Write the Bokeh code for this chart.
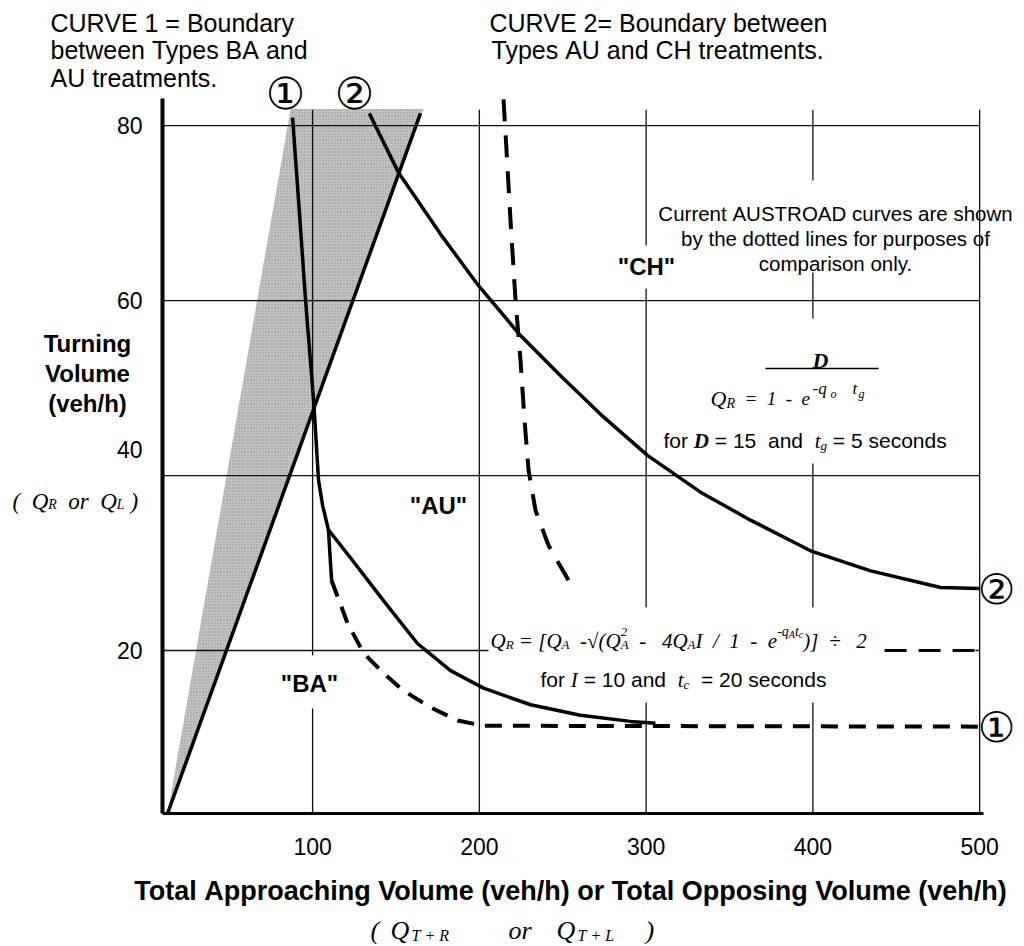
from bokeh.plotting import figure
from bokeh.models import Range1d, FixedTicker, Label, BoxAnnotation
from bokeh.embed import file_html
from bokeh.resources import INLINE

# ---------------- data ----------------
x_ticks = [100, 200, 300, 400, 500]
y_grid_vals = [20, 40, 60, 80]
y_tick_pos = [20, 43, 60, 80]           # the "40" label sits above its grid line in the original
y_tick_text = {20: "20", 43: "40", 60: "60", 80: "80"}

diag_x = [13.1, 164.7]
diag_y = [1.4, 81.4]

shade_x = [13.1, 86.8, 166.5]
shade_y = [1.4, 81.9, 81.9]

curve1_x = [88.0, 91.6, 95.8, 100.6, 103.6, 106.0, 109.5, 122.7, 142.5, 162.9,
            182.7, 202.5, 230.7, 260.6, 290.6, 305.6]
curve1_y = [80.9, 71.4, 60.0, 48.6, 39.4, 36.6, 33.8, 30.6, 25.7, 20.8,
            17.7, 15.7, 13.8, 12.6, 11.9, 11.7]
stub1_x = [109.5, 111.4]
stub1_y = [33.8, 28.0]

aus1_x = [111.4, 121.0, 130.6, 142.6, 154.6, 170.7, 187.0, 202.5, 500.0]
aus1_y = [28.0, 23.1, 19.7, 17.4, 15.4, 13.5, 12.0, 11.4, 11.3]

curve2_x = [134.0, 151.6, 176.7, 199.5, 224.7, 248.7, 272.7, 300.8, 332.6,
            362.6, 398.6, 434.6, 476.6, 500.0]
curve2_y = [81.4, 74.6, 67.6, 61.7, 56.0, 51.4, 47.0, 42.3, 38.1,
            34.9, 31.4, 29.1, 27.2, 27.1]

aus2_x = [214.5, 216.3, 218.7, 221.7, 224.7, 227.1, 229.5, 233.7, 241.5, 253.5]
aus2_y = [83.0, 77.1, 69.1, 60.0, 53.1, 46.3, 40.6, 36.0, 32.0, 28.0]
aus2_tail_x = [443.0, 500.0]
aus2_tail_y = [20.0, 20.0]

# ---------------- layout ----------------
W, H = 1022, 944
AX_X0, AX_X1 = 10.0, 502.3      # extent of the x axis line
AX_Y0, AX_Y1 = 1.37, 83.1       # extent of the y axis line
GRID_TOP = 81.8
SX = 821 / (AX_X1 - AX_X0)      # pixels per x unit
SY = 715 / (AX_Y1 - AX_Y0)      # pixels per y unit
PX_AX_L, PX_AX_T = 162, 98      # page position of the axes corner/top


def dx(px):  # page pixel -> data x
    return AX_X0 + (px - PX_AX_L) / SX


def dy(py):  # page pixel -> data y
    return AX_Y1 - (py - PX_AX_T) / SY


p = figure(width=W, height=H, x_range=Range1d(dx(0), dx(W)), y_range=Range1d(dy(H), dy(0)),
           output_backend="svg", toolbar_location=None,
           min_border_left=0, min_border_right=0, min_border_top=0, min_border_bottom=0)
p.title.visible = False
p.outline_line_color = None
p.background_fill_color = "white"
p.border_fill_color = "white"
p.xgrid.visible = False
p.ygrid.visible = False

SANS = "Liberation Sans"
SERIF = "Liberation Serif"

p.xaxis.ticker = FixedTicker(ticks=x_ticks)
p.yaxis.ticker = FixedTicker(ticks=y_tick_pos)
p.yaxis.major_label_overrides = y_tick_text
p.xaxis.fixed_location = AX_Y0
p.yaxis.fixed_location = AX_X0
p.xaxis.bounds = (AX_X0, AX_X1)
p.yaxis.bounds = (AX_Y0, AX_Y1)
for ax in (p.xaxis[0], p.yaxis[0]):
    ax.major_tick_line_color = None
    ax.minor_tick_line_color = None
    ax.major_label_text_font = SANS
    ax.major_label_text_font_size = "23px"
    ax.major_label_text_color = "black"
    ax.axis_line_color = "black"
p.xaxis.axis_line_width = 3
p.yaxis.axis_line_width = 4
p.xaxis.major_label_standoff = 18
p.yaxis.major_label_standoff = 14

# shaded wedge (behind grid)
p.patch(shade_x, shade_y, fill_color="#c2c2c2", line_color=None,
        hatch_pattern=".", hatch_scale=3, hatch_color="#777777", hatch_alpha=0.55,
        level="image")

# grid lines at the tick values
p.segment(x0=x_ticks, y0=[AX_Y0] * len(x_ticks), x1=x_ticks, y1=[GRID_TOP] * len(x_ticks),
          line_color="#111111", line_width=1.3, level="image")
p.segment(x0=[AX_X0] * len(y_grid_vals), y0=y_grid_vals, x1=[500] * len(y_grid_vals),
          y1=y_grid_vals, line_color="#111111", line_width=1.3, level="image")

# white boxes where text interrupts the grid in the original
for (l, r, t, b) in [(660, 975, 318, 463), (655, 975, 180, 272), (610, 682, 245, 288),
                     (488, 975, 607, 702), (278, 340, 655, 708)]:
    p.add_layout(BoxAnnotation(left=dx(l), right=dx(r), top=dy(t), bottom=dy(b),
                               fill_color="white", fill_alpha=1.0, line_color=None,
                               level="underlay"))

# curves
p.line(diag_x, diag_y, line_color="black", line_width=3.5)
p.line(curve1_x, curve1_y, line_color="black", line_width=3.5, line_join="round")
p.line(stub1_x, stub1_y, line_color="black", line_width=3.5)
p.line(curve2_x, curve2_y, line_color="black", line_width=3.5, line_join="round")
p.line(aus1_x, aus1_y, line_color="black", line_width=4, line_dash="17 11")
p.line(aus2_x, aus2_y, line_color="black", line_width=4, line_dash="22 14")
p.line(aus2_tail_x, aus2_tail_y, line_color="black", line_width=3, line_dash="22 12")

NB = "\u00a0"


def put(text, px, py, size, font=SANS, style="normal", align="left", baseline="middle",
        color="black"):
    lab = Label(x=dx(px), y=dy(py), text=text.replace(" ", NB), text_font=font,
                text_font_size=f"{size}px", text_font_style=style,
                text_align=align, text_baseline=baseline, text_color=color)
    p.add_layout(lab)
    return lab


# approximate advance widths (em) for composing formulae
W_SERIF_I = {' ': 0.25, 'Q': 0.722, 'R': 0.611, 'A': 0.611, 'T': 0.556, 'L': 0.556,
             'D': 0.722, 'I': 0.333, '=': 0.675, '[': 0.389, ']': 0.389, '(': 0.333,
             ')': 0.333, '-': 0.333, '+': 0.675, '/': 0.278, '÷': 0.675, '√': 0.55,
             '1': 0.5, '2': 0.5, '4': 0.5, 'e': 0.444, 'q': 0.5, 't': 0.278,
             'c': 0.444, 'g': 0.5, 'o': 0.5, 'r': 0.389}
W_SANS = {' ': 0.278, 'f': 0.278, 'o': 0.556, 'r': 0.333, '=': 0.584, 'a': 0.556,
          'n': 0.556, 'd': 0.556, 's': 0.5, 'e': 0.556, 'c': 0.5}


def width(text, fam, size):
    table = W_SERIF_I if fam == SERIF else W_SANS
    return sum(table.get(ch, 0.556) for ch in text) * size


def run(px, base, pieces):
    x = px
    for txt, fam, size, style, off in pieces:
        put(txt, x, base + off, size, font=fam, style=style, baseline="alphabetic")
        x += width(txt, fam, size)
    return x


# ---------------- texts ----------------
put("CURVE 1 = Boundary", 50, 22, 25)
put("between Types BA and", 50, 49, 25)
put("AU treatments.", 50, 77, 25)
put("CURVE 2= Boundary between", 489, 22, 25)
put("Types AU and CH treatments.", 491, 49, 25)

CIRC = "DejaVu Sans"
put("①", 285, 93, 44, font=CIRC, align="center")
put("②", 354, 93, 44, font=CIRC, align="center")
put("②", 996, 589, 42, font=CIRC, align="center")
put("①", 996, 727, 42, font=CIRC, align="center")

put("Turning", 87, 343, 24, style="bold", align="center")
put("Volume", 87, 373, 24, style="bold", align="center")
put("(veh/h)", 87, 403, 24, style="bold", align="center")

# ( Q_R or Q_L )
run(12, 501, [("(  Q", SERIF, 23, "italic", 0),
              ("R", SERIF, 14, "italic", 3),
              ("  or  Q", SERIF, 23, "italic", 0),
              ("L", SERIF, 14, "italic", 3),
              (" )", SERIF, 23, "italic", 0)])

put('"CH"', 646, 266, 24, style="bold", align="center")
put('"AU"', 438, 505, 24, style="bold", align="center")
put('"BA"', 309, 683, 24, style="bold", align="center")

put("Current AUSTROAD curves are shown", 835, 213, 20.5, align="center")
put("by the dotted lines for purposes of", 835, 238, 20.5, align="center")
put("comparison only.", 835, 263, 20.5, align="center")

# D / (1 - e^(-q_o t_g))
put("D", 820, 360, 22, font=SERIF, style="bold italic", align="center", baseline="alphabetic")
p.add_layout(BoxAnnotation(left=dx(765), right=dx(878), top=dy(367.3), bottom=dy(368.8),
                           fill_color="black", fill_alpha=1.0, line_color=None))
run(710, 398, [("Q", SERIF, 22, "italic", 0),
               ("R", SERIF, 14, "italic", 5),
               ("  =  1  -  e", SERIF, 19, "italic", 0)])
put("-q", 812, 388, 17, font=SERIF, style="italic", baseline="alphabetic")
put("o", 830, 393, 12, font=SERIF, style="italic", baseline="alphabetic")
put("t", 852, 388, 17, font=SERIF, style="italic", baseline="alphabetic")
put("g", 858, 393, 12, font=SERIF, style="italic", baseline="alphabetic")
run(663, 440, [("for ", SANS, 21, "normal", 0),
               ("D", SERIF, 21, "bold italic", 0),
               (" = 15  and  ", SANS, 21, "normal", 0),
               ("t", SERIF, 21, "italic", 0),
               ("g", SERIF, 13, "italic", 5),
               (" = 5 seconds", SANS, 21, "normal", 0)])

# Q_R = [Q_A - sqrt(Q_A^2 - 4 Q_A I / 1 - e^(-q_A t_c))] / 2
x = run(490, 640, [("Q", SERIF, 21, "italic", 0),
                   ("R", SERIF, 13, "italic", 4),
                   (" = [Q", SERIF, 21, "italic", 0),
                   ("A", SERIF, 13, "italic", 4),
                   ("  -√(Q", SERIF, 21, "italic", 0)])
put("2", x, 631, 13, font=SERIF, style="italic", baseline="alphabetic")
x = run(x, 644, [("A", SERIF, 13, "italic", 0)])
run(x, 640, [("  -   4Q", SERIF, 21, "italic", 0),
             ("A", SERIF, 13, "italic", 4),
             ("I  /  1  -  e", SERIF, 21, "italic", 0),
             ("-q", SERIF, 14, "italic", -9),
             ("A", SERIF, 10, "italic", -6),
             ("t", SERIF, 14, "italic", -9),
             ("c", SERIF, 10, "italic", -6),
             (")]  ÷   2", SERIF, 21, "italic", 0)])
run(540, 679, [("for ", SANS, 21, "normal", 0),
               ("I", SERIF, 21, "italic", 0),
               (" = 10 and  ", SANS, 21, "normal", 0),
               ("t", SERIF, 21, "italic", 0),
               ("c", SERIF, 13, "italic", 5),
               ("  = 20 seconds", SANS, 21, "normal", 0)])

# x-axis title
put("Total Approaching Volume (veh/h) or Total Opposing Volume (veh/h)", 570, 890, 27,
    style="bold", align="center")
BASE2 = 930
put("(", 370, BASE2, 26, font=SERIF, style="italic", baseline="alphabetic")
put("Q", 390, BASE2, 26, font=SERIF, style="italic", baseline="alphabetic")
put("T + R", 411, BASE2 + 5, 16, font=SERIF, style="italic", baseline="alphabetic")
put("or", 508, BASE2, 26, font=SERIF, style="italic", baseline="alphabetic")
put("Q", 556, BASE2, 26, font=SERIF, style="italic", baseline="alphabetic")
put("T + L", 577, BASE2 + 5, 16, font=SERIF, style="italic", baseline="alphabetic")
put(")", 645, BASE2, 26, font=SERIF, style="italic", baseline="alphabetic")

open("out.html", "w").write(file_html(p, INLINE))
